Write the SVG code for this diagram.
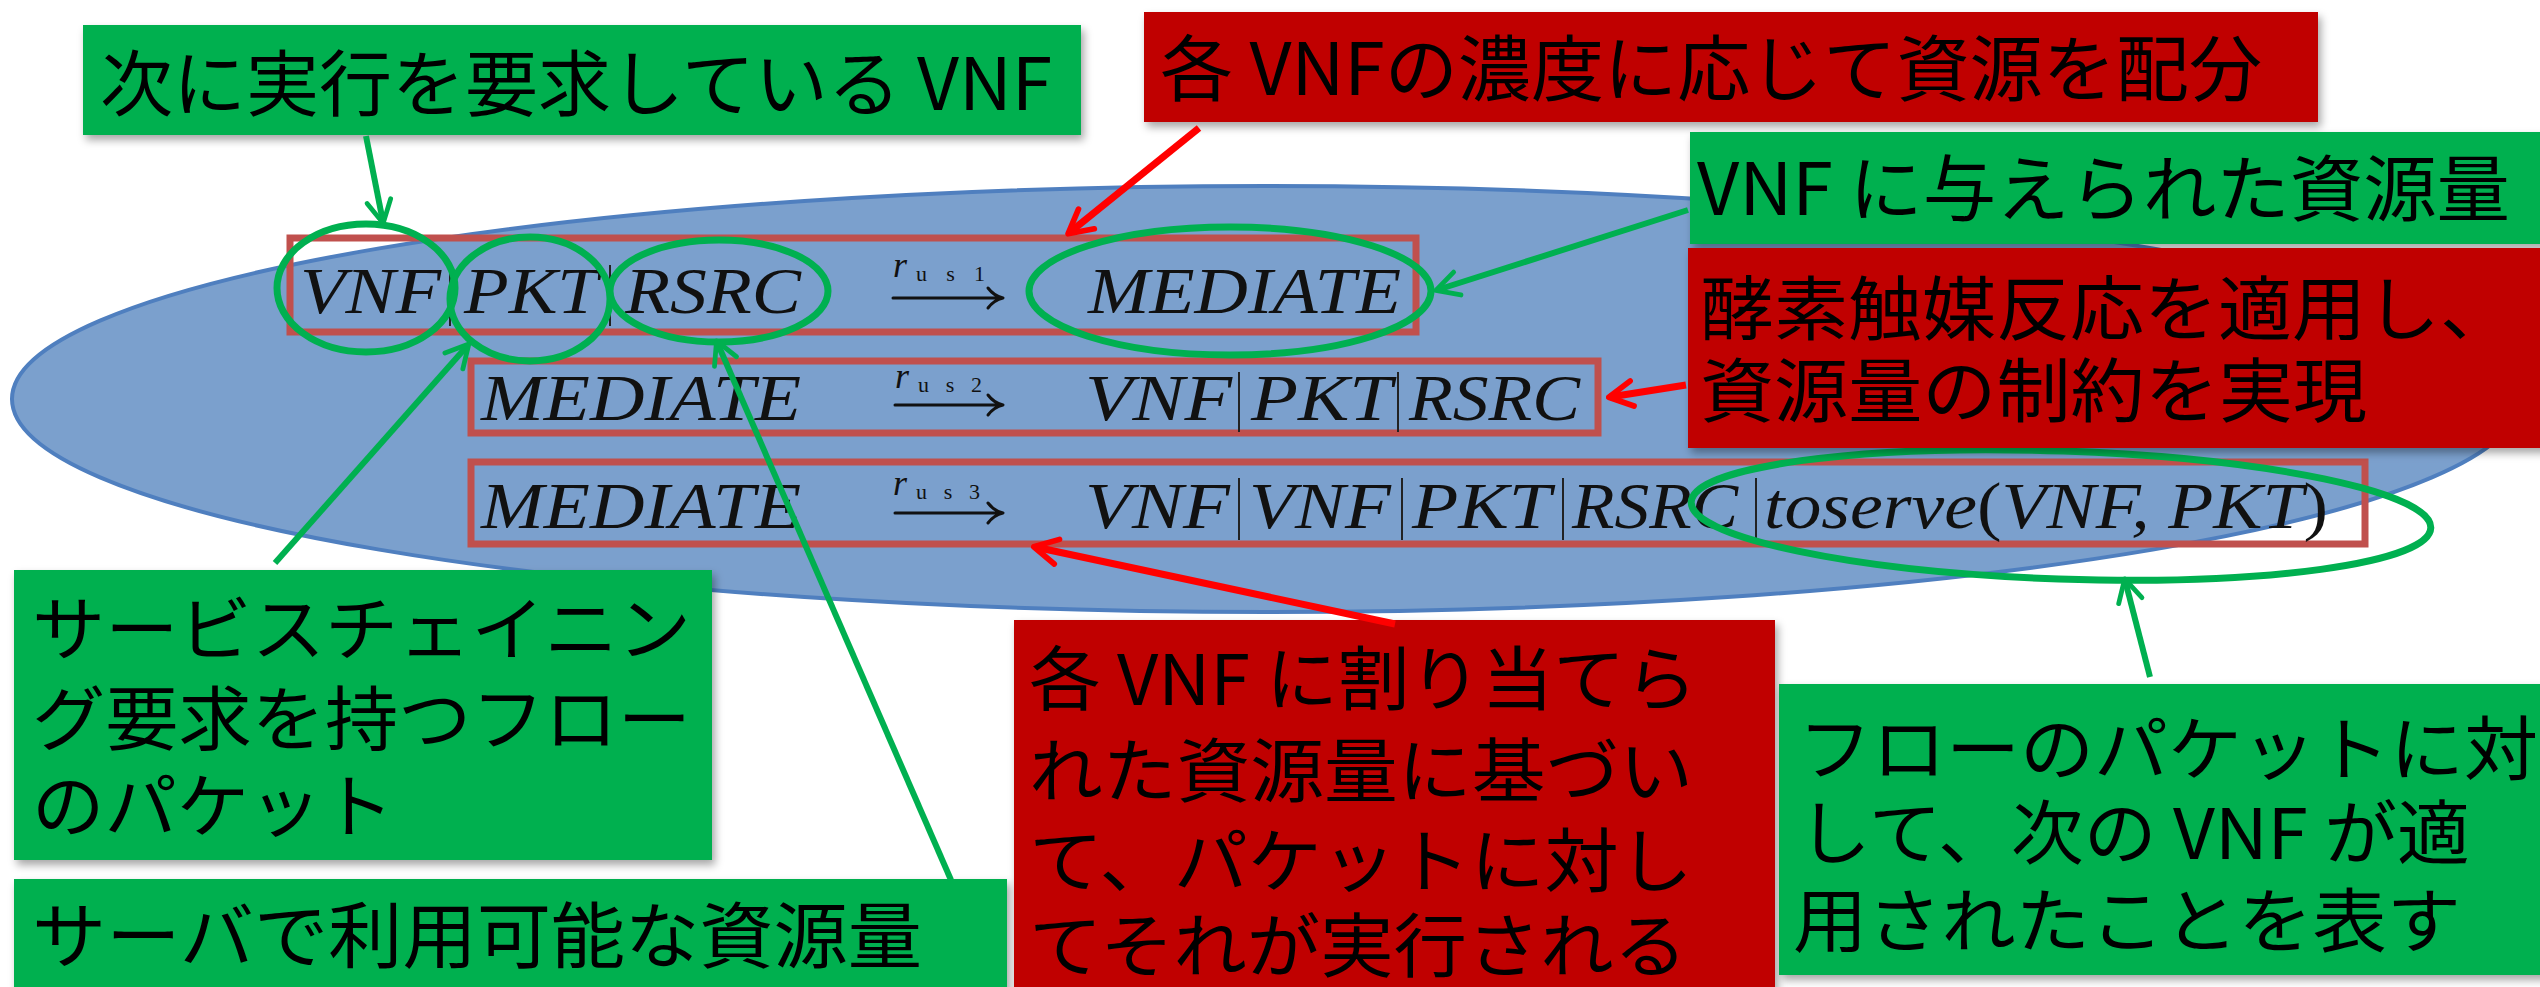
<svg xmlns="http://www.w3.org/2000/svg" width="2540" height="987" viewBox="0 0 2540 987">
<defs>
<style>
.bg{fill:#FFFFFF}
.box-g{fill:#00B050}
.box-r{fill:#C00000}
.jp{font-family:'Noto Sans CJK JP','Noto Sans CJK SC',sans-serif;font-size:72px;fill:#000}
.jm{font-size:70px}
.math{font-family:'Liberation Serif','DejaVu Serif',serif;font-style:italic;font-size:66px;fill:#111}
.lab{font-family:'Liberation Serif','DejaVu Serif',serif;font-style:italic;font-size:36px;fill:#111}
.sub{font-family:'Liberation Serif','DejaVu Serif',serif;font-style:normal;font-size:22px;fill:#111}
.frame{fill:none;stroke:#C0504D;stroke-width:7}
.bar{stroke:#222;stroke-width:2}
.arr{fill:none;stroke:#111;stroke-width:3;stroke-linecap:round;stroke-linejoin:round}
.hl{fill:none;stroke:#00B050;stroke-width:7}
.cg{fill:none;stroke:#00B050;stroke-width:6;marker-end:url(#ag)}
.cr{fill:none;stroke:#FF0000;stroke-width:7;marker-end:url(#ar)}
</style>
<marker id="ag" viewBox="0 0 10 10" markerWidth="5" markerHeight="5" refX="8.6" refY="5" orient="auto" markerUnits="strokeWidth">
<path d="M1.5,1 L9,5 L1.5,9" fill="none" stroke="#00B050" stroke-width="1.6" stroke-linecap="round" stroke-linejoin="round"/>
</marker>
<marker id="ar" viewBox="0 0 10 10" markerWidth="4.5" markerHeight="4.5" refX="8.6" refY="5" orient="auto" markerUnits="strokeWidth">
<path d="M1.5,1 L9,5 L1.5,9" fill="none" stroke="#FF0000" stroke-width="1.8" stroke-linecap="round" stroke-linejoin="round"/>
</marker>
<filter id="sh" x="-5%" y="-10%" width="115%" height="130%">
<feDropShadow dx="3" dy="5" stdDeviation="4" flood-color="#000" flood-opacity="0.35"/>
</filter>
</defs>
<rect class="bg" x="0" y="0" width="2540" height="987"/>

<g id="server-ellipse">
<ellipse cx="1266" cy="399" rx="1254" ry="213" fill="#7BA0CD" stroke="#4F7FBF" stroke-width="4"/>
</g>

<g id="rule-rus1">
<rect class="frame" x="290" y="238" width="1126" height="94"/>
<text class="math" x="300" y="313" textLength="141" lengthAdjust="spacingAndGlyphs">VNF</text>
<line class="bar" x1="450" y1="265" x2="450" y2="326"/>
<text class="math" x="464" y="313" textLength="134" lengthAdjust="spacingAndGlyphs">PKT</text>
<line class="bar" x1="610" y1="265" x2="610" y2="326"/>
<text class="math" x="625" y="313" textLength="176" lengthAdjust="spacingAndGlyphs">RSRC</text>
<text class="lab" x="893" y="277">r<tspan class="sub" x="916" y="281" textLength="69" lengthAdjust="spacing">us1</tspan></text>
<path class="arr" d="M893,298 H1002 M988,288 Q994,296 1003,298 Q994,300 988,308"/>
<text class="math" x="1088" y="313" textLength="313" lengthAdjust="spacingAndGlyphs">MEDIATE</text>
</g>

<g id="rule-rus2">
<rect class="frame" x="471" y="361" width="1127" height="72"/>
<text class="math" x="481" y="420" textLength="320" lengthAdjust="spacingAndGlyphs">MEDIATE</text>
<text class="lab" x="895" y="388">r<tspan class="sub" x="918" y="392" textLength="64" lengthAdjust="spacing">us2</tspan></text>
<path class="arr" d="M895,405 H1002 M988,395 Q994,403 1003,405 Q994,407 988,415"/>
<text class="math" x="1085" y="420" textLength="147" lengthAdjust="spacingAndGlyphs">VNF</text>
<line class="bar" x1="1239" y1="372" x2="1239" y2="432"/>
<text class="math" x="1251" y="420" textLength="141" lengthAdjust="spacingAndGlyphs">PKT</text>
<line class="bar" x1="1398" y1="372" x2="1398" y2="432"/>
<text class="math" x="1409" y="420" textLength="171" lengthAdjust="spacingAndGlyphs">RSRC</text>
</g>

<g id="rule-rus3">
<rect class="frame" x="471" y="462" width="1894" height="82"/>
<text class="math" x="481" y="528" textLength="320" lengthAdjust="spacingAndGlyphs">MEDIATE</text>
<text class="lab" x="893" y="495">r<tspan class="sub" x="916" y="499" textLength="64" lengthAdjust="spacing">us3</tspan></text>
<path class="arr" d="M895,513 H1002 M988,503 Q994,511 1003,513 Q994,515 988,523"/>
<text class="math" x="1085" y="528" textLength="145" lengthAdjust="spacingAndGlyphs">VNF</text>
<line class="bar" x1="1239" y1="478" x2="1239" y2="540"/>
<text class="math" x="1249" y="528" textLength="142" lengthAdjust="spacingAndGlyphs">VNF</text>
<line class="bar" x1="1402" y1="478" x2="1402" y2="540"/>
<text class="math" x="1412" y="528" textLength="139" lengthAdjust="spacingAndGlyphs">PKT</text>
<line class="bar" x1="1563" y1="478" x2="1563" y2="540"/>
<text class="math" x="1572" y="528" textLength="166" lengthAdjust="spacingAndGlyphs">RSRC</text>
<line class="bar" x1="1756" y1="478" x2="1756" y2="540"/>
<text class="math" x="1764" y="528" textLength="564" lengthAdjust="spacingAndGlyphs">toserve<tspan font-style="normal">(</tspan>VNF, PKT<tspan font-style="normal">)</tspan></text>
</g>

<g id="highlights">
<ellipse class="hl" cx="366" cy="288" rx="89" ry="64"/>
<ellipse class="hl" cx="530" cy="299" rx="80" ry="62"/>
<ellipse class="hl" cx="719" cy="291" rx="109" ry="51"/>
<ellipse class="hl" cx="1230" cy="291" rx="201" ry="64"/>
<ellipse class="hl" cx="2061" cy="515" rx="370" ry="64" transform="rotate(2 2061 515)"/>
</g>

<g id="node-next-vnf">
<rect class="box-g" x="83" y="25" width="998" height="110" filter="url(#sh)"/>
<text class="jp" x="100" y="110" textLength="952" lengthAdjust="spacingAndGlyphs">次に実行を要求している VNF</text>
</g>

<g id="node-allocate">
<rect class="box-r" x="1144" y="12" width="1174" height="110" filter="url(#sh)"/>
<text class="jp" x="1160" y="95" textLength="1102" lengthAdjust="spacingAndGlyphs">各 VNFの濃度に応じて資源を配分</text>
</g>

<g id="node-given-resource">
<rect class="box-g" x="1690" y="132" width="860" height="112" filter="url(#sh)"/>
<text class="jp" x="1697" y="215" textLength="813" lengthAdjust="spacingAndGlyphs">VNF に与えられた資源量</text>
</g>

<g id="node-enzyme">
<rect class="box-r" x="1688" y="248" width="862" height="200" filter="url(#sh)"/>
<text class="jp jm" x="1700" y="335" textLength="814" lengthAdjust="spacingAndGlyphs">酵素触媒反応を適用し、</text>
<text class="jp jm" x="1700" y="417" textLength="667" lengthAdjust="spacingAndGlyphs">資源量の制約を実現</text>
</g>

<g id="node-packet">
<rect class="box-g" x="14" y="570" width="698" height="290" filter="url(#sh)"/>
<text class="jp jm" x="32" y="655" textLength="659" lengthAdjust="spacingAndGlyphs">サービスチェイニン</text>
<text class="jp jm" x="32" y="745" textLength="659" lengthAdjust="spacingAndGlyphs">グ要求を持つフロー</text>
<text class="jp jm" x="32" y="832" textLength="362" lengthAdjust="spacingAndGlyphs">のパケット</text>
</g>

<g id="node-server-resource">
<rect class="box-g" x="14" y="879" width="993" height="120" filter="url(#sh)"/>
<text class="jp" x="32" y="962" textLength="890" lengthAdjust="spacingAndGlyphs">サーバで利用可能な資源量</text>
</g>

<g id="node-execute">
<rect class="box-r" x="1014" y="620" width="761" height="380" filter="url(#sh)"/>
<text class="jp jm" x="1029" y="705" textLength="668" lengthAdjust="spacingAndGlyphs">各 VNF に割り当てら</text>
<text class="jp jm" x="1029" y="797" textLength="664" lengthAdjust="spacingAndGlyphs">れた資源量に基づい</text>
<text class="jp jm" x="1029" y="887" textLength="664" lengthAdjust="spacingAndGlyphs">て、パケットに対し</text>
<text class="jp jm" x="1029" y="972" textLength="658" lengthAdjust="spacingAndGlyphs">てそれが実行される</text>
</g>

<g id="node-toserve">
<rect class="box-g" x="1779" y="684" width="771" height="291" filter="url(#sh)"/>
<text class="jp jm" x="1798" y="775" textLength="740" lengthAdjust="spacingAndGlyphs">フローのパケットに対</text>
<text class="jp jm" x="1798" y="859" textLength="672" lengthAdjust="spacingAndGlyphs">して、次の VNF が適</text>
<text class="jp jm" x="1793" y="947" textLength="668" lengthAdjust="spacingAndGlyphs">用されたことを表す</text>
</g>

<g id="connectors">
<path class="cg" d="M366,136 L383,222"/>
<path class="cg" d="M275,563 L468,345"/>
<path class="cg" d="M951,880 L717,342"/>
<path class="cg" d="M1688,210 L1437,290"/>
<path class="cg" d="M2150,677 L2125,580"/>
<path class="cr" d="M1199,128 L1069,233"/>
<path class="cr" d="M1686,385 L1610,397"/>
<path class="cr" d="M1395,624 L1035,547"/>
</g>
</svg>
